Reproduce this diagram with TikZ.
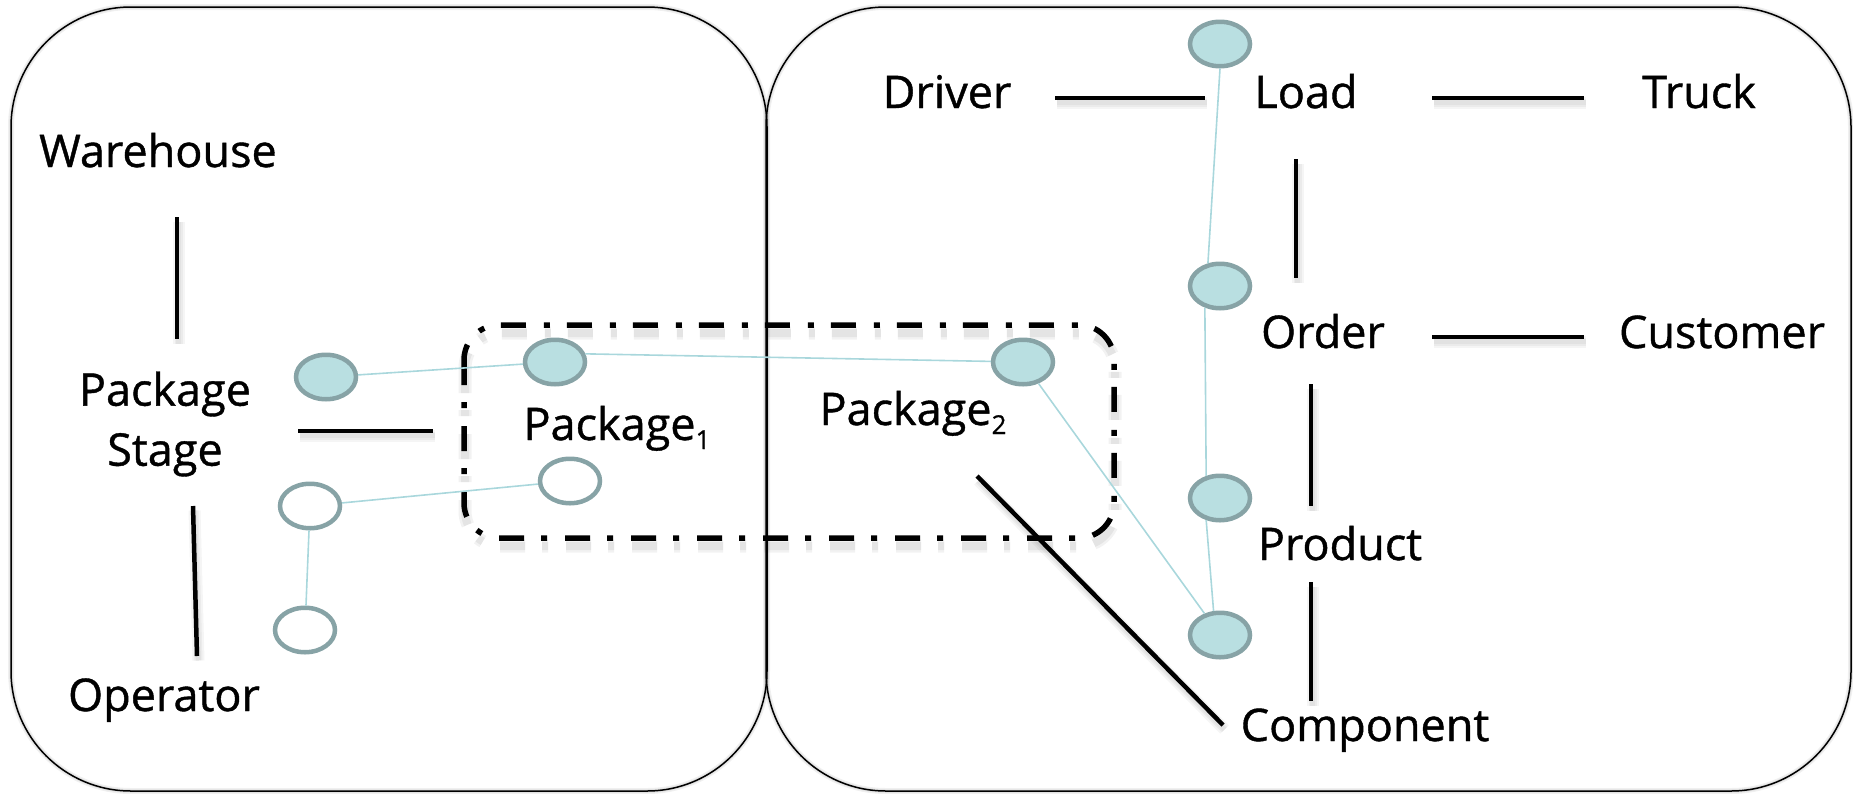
\documentclass[tikz,border=0pt]{standalone}
\usepackage{fontspec}
\setmainfont{Open Sans}
\newfontfamily\lblfont{Open Sans}[FakeBold=0.9]
\usetikzlibrary{shapes.geometric}

\definecolor{dotfill}{HTML}{B9DFE1}
\definecolor{dotedge}{HTML}{87A3A6}
\definecolor{threadcol}{HTML}{A9D7DC}

% small lowered index for the package names
\newcommand\subidx[1]{\raisebox{-9pt}{\fontsize{26}{26}\selectfont #1}}

\begin{document}
\begin{tikzpicture}[x=1pt,y=-1pt,
  lbl/.style={font=\lblfont\fontsize{45}{60}\selectfont, inner sep=0pt, anchor=base},
  obj/.style={ellipse, draw=dotedge, line width=4.5pt, fill=dotfill,
    minimum width=60pt, minimum height=44.5pt, inner sep=0pt},
  hollow/.style={obj, fill=white},
  thread/.style={draw=threadcol, line width=1.6pt},
  soft/.style={preaction={draw=black, opacity=#1, line width=12pt, transform canvas={shift={(1.5pt,-4.5pt)}}},
    preaction={draw=black, opacity=#1, line width=8pt, transform canvas={shift={(1.5pt,-4.5pt)}}},
    preaction={draw=black, opacity=#1, line width=5pt, transform canvas={shift={(1.5pt,-4.5pt)}}}},
  link/.style={line width=4.5pt, line cap=butt, soft=0.04},
  frame/.style={draw, line width=1.5pt, rounded corners=120pt,
    preaction={draw=black, opacity=0.06, line width=6pt},
    preaction={draw=black, opacity=0.06, line width=3.5pt}},
  groupbox/.style={draw, line width=5.5pt, rounded corners=35pt,
    dash pattern=on 25pt off 17pt on 6pt off 18pt,
    preaction={draw=black, opacity=0.05, line width=13pt, rounded corners=35pt,
      dash pattern=on 25pt off 17pt on 6pt off 18pt,
      transform canvas={shift={(1pt,-8pt)}}},
    preaction={draw=black, opacity=0.06, line width=8pt, rounded corners=35pt,
      dash pattern=on 25pt off 17pt on 6pt off 18pt,
      transform canvas={shift={(1pt,-8pt)}}}}
]
\useasboundingbox (0,0) rectangle (1853,793);

% the two domains
\draw[frame] (11,7) rectangle (767,791);
\draw[frame] (766,7) rectangle (1851,791);

% the package group
\draw[groupbox] (464,325) rectangle (1114,538);

% entity names
\node[lbl] (wh) at (158,167) {Warehouse};
\node[lbl, align=center, anchor=center] (ps) at (165,424) {Package\\Stage};
\node[lbl] (op) at (164,711) {Operator};
\node[lbl] (p1) at (617,440) {Package\subidx{1}};
\node[lbl] (p2) at (913,425) {Package\subidx{2}};
\node[lbl] (dr) at (947,108) {Driver};
\node[lbl] (ld) at (1306,108) {Load};
\node[lbl] (tr) at (1699,108) {Truck};
\node[lbl] (or) at (1323,348) {Order};
\node[lbl] (cu) at (1722,348) {Customer};
\node[lbl] (pr) at (1340,560) {Product};
\node[lbl] (co) at (1365,741) {Component};

% ends of the association lines
\coordinate (wh-a) at (177,217);  \coordinate (ps-a) at (177,339);
\coordinate (ps-b) at (193,506);  \coordinate (op-b) at (197,656);
\coordinate (ps-c) at (298,431);  \coordinate (p1-c) at (433,431);
\coordinate (p2-d) at (977,476);  \coordinate (co-d) at (1223,725);
\coordinate (dr-e) at (1055,98);  \coordinate (ld-e) at (1205,98);
\coordinate (ld-f) at (1432,98);  \coordinate (tr-f) at (1584,98);
\coordinate (ld-g) at (1296,159); \coordinate (or-g) at (1296,278);
\coordinate (or-h) at (1432,337); \coordinate (cu-h) at (1584,337);
\coordinate (or-i) at (1311,384); \coordinate (pr-i) at (1311,506);
\coordinate (pr-j) at (1311,582); \coordinate (co-j) at (1311,701);

% associations
\draw[link] (wh-a) -- (ps-a);
\draw[link] (ps-b) -- (op-b);
\draw[link] (ps-c) -- (p1-c);
\draw[link] (p2-d) -- (co-d);
\draw[link] (dr-e) -- (ld-e);
\draw[link] (ld-f) -- (tr-f);
\draw[link] (ld-g) -- (or-g);
\draw[link] (or-h) -- (cu-h);
\draw[link] (or-i) -- (pr-i);
\draw[link] (pr-j) -- (co-j);

% instances
\node[obj] (c1) at (326,377) {};
\node[obj] (c2) at (555,362) {};
\node[obj] (c3) at (1023,362) {};
\node[obj] (c4) at (1220,44) {};
\node[obj] (c5) at (1220,286) {};
\node[obj] (c6) at (1220,498) {};
\node[obj] (c7) at (1220,635) {};
\node[hollow] (h1) at (570,481) {};
\node[hollow] (h2) at (310,506) {};
\node[hollow] (h3) at (305,630) {};

% instance links
\draw[thread] (c1) -- (c2);
\draw[thread] (c2.15) -- (c3);
\draw[thread] (c3) -- (c7);
\draw[thread] (c4.south) -- (c5.118);
\draw[thread] (c5.235) -- (c6.122);
\draw[thread] (c6.238) -- (c7.105);
\draw[thread] (h1) -- (h2);
\draw[thread] (h2) -- (h3);
\end{tikzpicture}
\end{document}
